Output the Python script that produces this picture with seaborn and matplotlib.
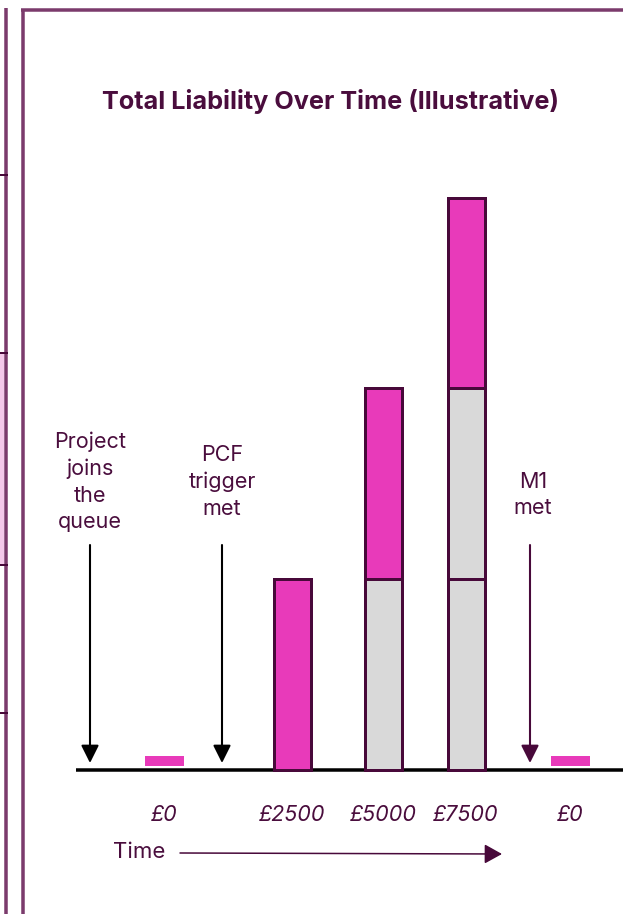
import matplotlib
matplotlib.use("Agg")
import matplotlib.pyplot as plt
import numpy as np
import pandas as pd
import seaborn as sns

# ---- data -------------------------------------------------------------
stage_labels = ["£0", "£2500", "£5000", "£7500", "£0"]
total_liability = [0, 2500, 5000, 7500, 0]
new_liability = [0, 2500, 2500, 2500, 0]       # pink tranche added at each stage
carried_liability = [0, 0, 2500, 5000, 0]      # grey tranches carried forward
tranche = 2500
milestones = ["Project\njoins\nthe\nqueue", "PCF\ntrigger\nmet", "M1\nmet"]
title = "Total Liability Over Time (Illustrative)"
axis_label = "Time"

# ---- layout (pixels on the 623 x 914 canvas) ---------------------------
W, H = 623, 914
stage_x = [164.5, 292, 383, 466, 570.5]
milestone_x = [90, 222, 530]
milestone_text_x = [90, 222, 533]
milestone_text_y = [482, 482, 495]
base_px, top_px = 770, 197.5
BAR_PX = 37
STUB_PX = (4, 10)  # gap above baseline, height of the zero marker

# ---- colours ------------------------------------------------------------
PINK = "#E83ABA"
GREY = "#D9D9D9"
EDGE = "#48093A"
TEXT = "#4A0D3D"
FRAME = "#7B3B6C"
PALE = "#F4C9EA"
arrow_colors = ["black", "black", EDGE]

sns.set_theme(style="white")
plt.rcParams["font.family"] = ["Inter", "DejaVu Sans"]

fig = plt.figure(figsize=(W / 100, H / 100), dpi=100)
fig.patch.set_facecolor("white")

# data axes: x in canvas pixels, y in pounds
ax = fig.add_axes([0, 0, 1, 1])
ax.set_facecolor("none")
px_per_unit = (base_px - top_px) / max(total_liability)

df = pd.DataFrame({
    "x": stage_x,
    "label": stage_labels,
    "total": total_liability,
    "new": new_liability,
    "carried": carried_liability,
})
stacked = df[df["total"] > 0]
lw = 3 * 72 / 100


def draw_layer(frame, col, color):
    xs = np.unique(frame["x"])
    unit = np.diff(xs).min() if len(xs) > 1 else 1.0
    sns.barplot(data=frame, x="x", y=col, color=color, native_scale=True,
                width=BAR_PX / unit, errorbar=None, saturation=1,
                edgecolor=EDGE, linewidth=lw, ax=ax, zorder=3)


# full height in pink, then the carried tranches in grey on top of it
draw_layer(stacked, "total", PINK)
k = 0
while True:
    h = stacked["carried"] - k * tranche
    layer = stacked[h > 0].assign(h=h[h > 0])
    if layer.empty:
        break
    draw_layer(layer, "h", GREY)
    k += 1

# zero-liability markers
zero = df[df["total"] == 0]
ax.bar(zero["x"], STUB_PX[1] / px_per_unit, bottom=STUB_PX[0] / px_per_unit,
       width=39, color=PINK, linewidth=0, zorder=3)

# baseline
ax.plot([76, W], [0, 0], color="black", lw=3.5 * 0.72, zorder=2,
        solid_capstyle="butt")

ax.set_xlim(0, W)
ax.set_ylim(-(H - base_px) / px_per_unit, base_px / px_per_unit)
ax.axis("off")

# decoration axes in pixel coordinates
deco = fig.add_axes([0, 0, 1, 1], facecolor="none")
deco.set_xlim(0, W)
deco.set_ylim(H, 0)
deco.axis("off")

# panel frames
deco.plot([22.5, 22.5], [H, 9.5], color=FRAME, lw=3.5 * 0.72, solid_capstyle="butt")
deco.plot([21, W], [9.5, 9.5], color=FRAME, lw=3.5 * 0.72, solid_capstyle="butt")
deco.plot([5.5, 5.5], [H, 8], color=FRAME, lw=3.5 * 0.72, solid_capstyle="butt")
deco.fill_between([0, 3.8], 354, 565, color=PALE, lw=0)
for ty in [175, 352.5, 565, 713]:
    deco.plot([0, 7.5], [ty, ty], color=EDGE, lw=2 * 0.72, solid_capstyle="butt")

# title
deco.text(331, 102, title, ha="center", va="center", fontsize=18.2,
          fontweight="bold", color=TEXT)

# milestone arrows and labels
for x, tx, ty, txt, c in zip(milestone_x, milestone_text_x, milestone_text_y,
                             milestones, arrow_colors):
    deco.annotate("", xy=(x, 763), xytext=(x, 545),
                  arrowprops=dict(arrowstyle="-|>,head_length=0.54,head_width=0.27",
                                  mutation_scale=20, lw=1.5, color=c,
                                  shrinkA=0, shrinkB=0))
    deco.text(tx, ty, txt, ha="center", va="center", fontsize=15.5,
              color=TEXT, linespacing=1.4)

# stage value labels
for x, lab in zip(stage_x, stage_labels):
    deco.text(x, 815, lab, ha="center", va="center", fontsize=15.5,
              style="italic", color=TEXT)

# time axis
deco.text(139, 852, axis_label, ha="center", va="center", fontsize=16, color=TEXT)
deco.annotate("", xy=(502, 854), xytext=(180, 853),
              arrowprops=dict(arrowstyle="-|>,head_length=0.54,head_width=0.3",
                              mutation_scale=20, lw=1.1, color=EDGE,
                              shrinkA=0, shrinkB=0))

fig.savefig("out.png", dpi=100, facecolor="white")
